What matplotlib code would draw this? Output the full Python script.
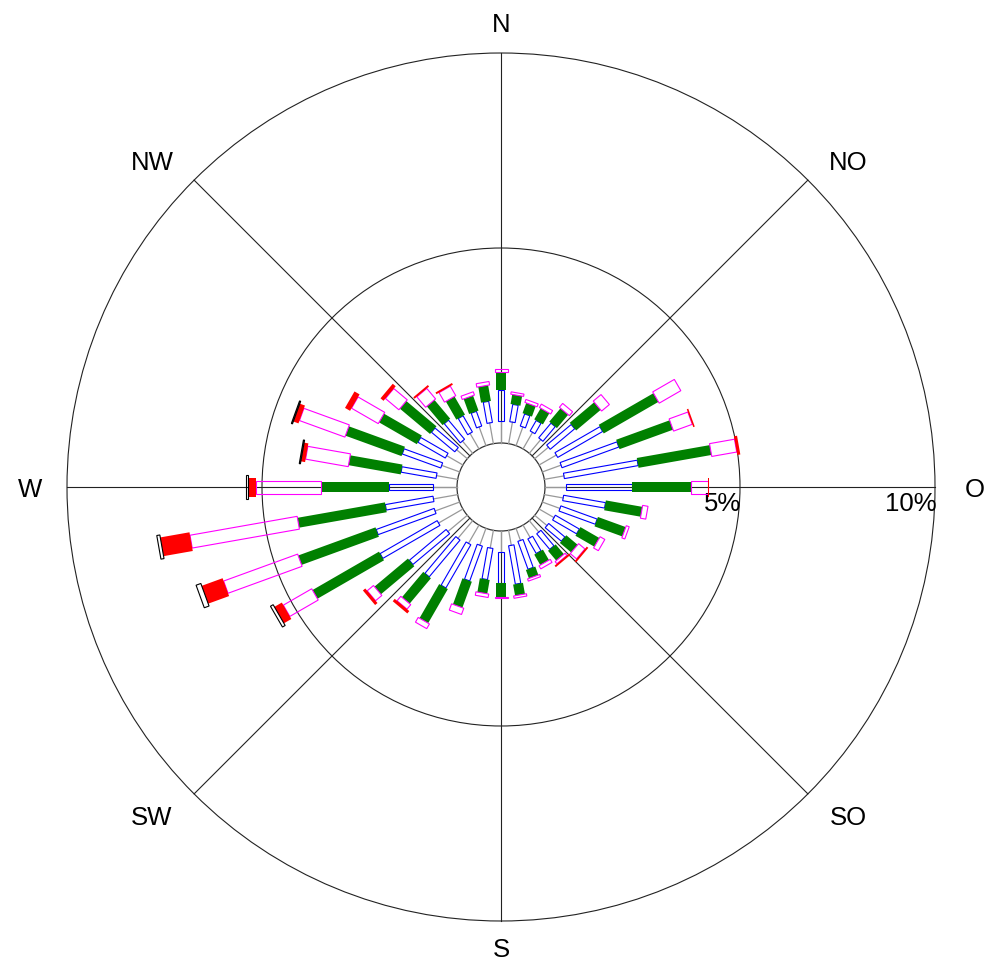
import numpy as np
import matplotlib.pyplot as plt
from matplotlib.patches import Polygon, Circle

# wind directions (degrees, clockwise from N)
directions = [0, 10, 20, 30, 40, 50, 60, 70, 80, 90, 100, 110,
              120, 130, 140, 150, 160, 170, 180, 190, 200, 210, 220, 230,
              240, 250, 260, 270, 280, 290, 300, 310, 320, 330, 340, 350]

# frequency (%) of each speed class per direction
speed1 = [0.56, 0.56, 0.51, 0.49, 0.46, 0.46, 0.51, 0.51, 0.51, 0.54, 0.49, 0.48,
          0.44, 0.41, 0.38, 0.37, 0.33, 0.39, 0.54, 0.46, 0.46, 0.54, 0.59, 0.65,
          0.72, 0.67, 0.63, 0.62, 0.55, 0.49, 0.48, 0.36, 0.41, 0.46, 0.51, 0.54]
speed2 = [0.81, 0.45, 0.33, 0.31, 0.49, 0.82, 1.33, 1.55, 1.92, 1.68, 1.09, 0.99,
          0.71, 0.54, 0.52, 0.43, 0.76, 1.00, 0.79, 0.81, 0.95, 1.28, 1.23, 1.23,
          1.69, 1.58, 1.24, 1.12, 0.91, 1.05, 0.81, 0.78, 0.64, 0.48, 0.40, 0.55]
speed3 = [0.45, 0.25, 0.28, 0.33, 0.45, 0.82, 1.62, 1.46, 1.90, 1.52, 0.95, 0.76,
          0.56, 0.38, 0.33, 0.31, 0.23, 0.29, 0.35, 0.36, 0.71, 1.01, 0.85, 1.12,
          1.97, 2.11, 2.28, 1.74, 1.36, 1.53, 1.12, 1.01, 0.63, 0.54, 0.41, 0.41]
speed4 = [0.09, 0.06, 0.08, 0.10, 0.13, 0.26, 0.64, 0.51, 0.65, 0.44, 0.14, 0.08,
          0.14, 0.21, 0.07, 0.09, 0.06, 0.06, 0.05, 0.09, 0.17, 0.14, 0.15, 0.21,
          0.84, 2.02, 2.79, 1.68, 1.11, 1.24, 0.79, 0.45, 0.35, 0.28, 0.09, 0.09]
speed5 = [0, 0, 0, 0, 0, 0, 0, 0.04, 0.08, 0.03, 0, 0,
          0, 0.05, 0.05, 0, 0, 0, 0, 0, 0, 0, 0.08, 0.08,
          0.22, 0.57, 0.76, 0.21, 0.11, 0.14, 0.15, 0.10, 0.05, 0.05, 0, 0]
speed6 = [0, 0, 0, 0, 0, 0, 0, 0, 0, 0, 0, 0,
          0, 0, 0, 0, 0, 0, 0, 0, 0, 0, 0, 0,
          0.08, 0.13, 0.08, 0.03, 0.03, 0.03, 0, 0, 0, 0, 0, 0]

compass = ['N', 'NO', 'O', 'SO', 'S', 'SW', 'W', 'NW']
rings = [5, 10]

px = 39.0          # pixels per percent
cx, cy = 501, 487  # centre in pixels
r0 = 44 / px       # radius of the calm circle

fig = plt.figure(figsize=(9.86, 9.63), dpi=100)
ax = fig.add_axes([0, 0, 1, 1])
ax.set_xlim(-cx / px, (986 - cx) / px)
ax.set_ylim(-(963 - cy) / px, cy / px)
ax.axis('off')


def bar(theta, r_in, r_out, width, **kw):
    t = np.radians(theta)
    u = np.array([np.sin(t), np.cos(t)])
    n = np.array([np.cos(t), -np.sin(t)]) * width / 2 / px
    a, b = r0 + r_in, r0 + r_out
    pts = [a * u - n, b * u - n, b * u + n, a * u + n]
    ax.add_patch(Polygon(pts, closed=True, **kw))


# grid
for r in rings:
    ax.add_patch(Circle((0, 0), r0 + r, fill=False, ec='#222222', lw=0.8, zorder=1))
for i in range(8):
    t = np.radians(i * 45)
    ax.plot([r0 * np.sin(t), (r0 + 10) * np.sin(t)],
            [r0 * np.cos(t), (r0 + 10) * np.cos(t)], color='#222222', lw=0.8, zorder=1)
ax.add_patch(Circle((0, 0), r0, fill=False, ec='#333333', lw=0.9, zorder=2))

# bars
styles = [
    dict(width=5.5, fc='none', ec='blue', lw=0.8),
    dict(width=10, fc='green', ec='none', lw=0),
    dict(width=13, fc='none', ec='magenta', lw=0.8),
    dict(width=19, fc='red', ec='none', lw=0),
    dict(width=24, fc='none', ec='black', lw=0.8),
]
for k, d in enumerate(directions):
    vals = [speed1[k], speed2[k], speed3[k], speed4[k], speed5[k], speed6[k]]
    t = np.radians(d)
    ax.plot([r0 * np.sin(t), (r0 + vals[0]) * np.sin(t)],
            [r0 * np.cos(t), (r0 + vals[0]) * np.cos(t)], color='#999999', lw=0.9, zorder=3)
    start = vals[0]
    for v, st in zip(vals[1:], styles):
        if v > 0:
            st = dict(st)
            w = st.pop('width')
            bar(d, start, start + v, w, zorder=4, **st)
        start += v

# labels (offsets from the centre, in pixels)
label_dx = [0, 347, 474, 347, 0, -349, -471, -349]
label_dy = [462, 324, -3, -331, -463, -331, -3, 324]
for lab, dx, dy in zip(compass, label_dx, label_dy):
    ax.text(dx / px, dy / px, lab, ha='center', va='center',
            fontsize=18.5, family='Liberation Sans')
for r in rings:
    ax.text(r0 + r + 0.03, -0.12, f'{r}%', ha='right', va='top',
            fontsize=18.5, family='Liberation Sans')

fig.savefig('out.png', dpi=100)
